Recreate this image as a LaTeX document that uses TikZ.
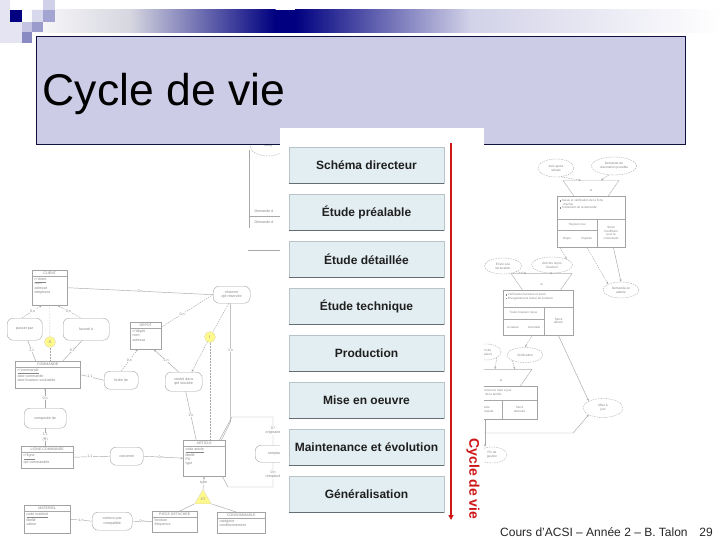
\documentclass[tikz,border=0pt]{standalone}
\usepackage{fontspec}
\setmainfont{Liberation Sans}
\usetikzlibrary{shapes.geometric,arrows.meta,calc}
\definecolor{navy}{RGB}{0,0,128}
\definecolor{barA}{RGB}{214,214,224}
\definecolor{barB}{RGB}{210,210,232}
\definecolor{titlefill}{RGB}{204,204,230}
\definecolor{titleline}{RGB}{16,16,64}
\definecolor{stagefill}{RGB}{227,238,242}
\definecolor{stageedge}{RGB}{184,196,200}
\definecolor{stagebottom}{RGB}{100,110,114}
\definecolor{cyclered}{RGB}{206,22,22}
\definecolor{sqL}{RGB}{228,228,242}
\definecolor{sqA}{RGB}{208,208,232}
\definecolor{sqB}{RGB}{216,216,236}
\definecolor{sqC}{RGB}{164,164,210}
\definecolor{sqD}{RGB}{196,196,226}
\definecolor{sqE}{RGB}{156,156,204}
\definecolor{sqF}{RGB}{138,138,194}
\tikzset{
  fl/.style={draw=black!34, line width=0.45pt},
  fdash/.style={fl, dash pattern=on 1.5pt off 1pt},
  fdot/.style={fl, dash pattern=on 0.5pt off 1pt},
  farr/.style={-{Stealth[length=2.5pt,width=2pt]}},
  farrs/.style={{Stealth[length=2.5pt,width=2pt]}-},
  ft/.style={text=black!48, font=\fontsize{3.6}{4.2}\selectfont, inner sep=0.3pt},
  card/.style={ft, fill=white},
  ent/.style={draw=black!36, fill=white, rectangle, inner sep=0pt, anchor=north west},
  asc/.style={draw=black!36, fill=white, rounded corners=6pt, inner sep=0pt, anchor=north west, align=center, text=black!48, font=\fontsize{3.6}{4.2}\selectfont},
  elli/.style={ellipse, draw=black!32, fill=white, dash pattern=on 1.5pt off 1pt, align=center, inner sep=0pt, text=black!48, font=\fontsize{3.2}{3.8}\selectfont},
  ycirc/.style={circle, fill=yellow!45, draw=yellow!50!black!30, inner sep=0pt, minimum size=11pt, text=black!50, font=\fontsize{4}{4}\selectfont},
  sync/.style={trapezium, draw=black!32, fill=white, shape border rotate=180, trapezium angle=55, inner sep=0pt, text=black!48, font=\fontsize{3}{3}\selectfont},
  stagebox/.style={fill=stagefill, draw=stageedge, line width=0.6pt, minimum width=155pt, minimum height=36pt, inner sep=0pt, font=\bfseries\fontsize{12}{14}\selectfont, text=black!88}
}
\newcommand\mcdent[7]{%
  \node[ent, minimum width=#4pt, minimum height=#5pt] (#1) at (#2,#3) {};
  \draw[fl] ([yshift=-6.5pt]#1.north west) -- ([yshift=-6.5pt]#1.north east);
  \node[ft, anchor=north] (#1-h) at ([yshift=-1.2pt]#1.north) {#6};
  \node[ft, anchor=north west, align=left] (#1-a) at ([xshift=2pt,yshift=-7.5pt]#1.north west) {#7};
}
\begin{document}
\begin{tikzpicture}[x=1pt,y=-1pt]
\useasboundingbox (0,0) rectangle (720,540);
\fill[white] (0,0) rectangle (720,540);

% ---- gradient bar
\shade[left color=white, right color=barA] (18,10) rectangle (130.5,33);
\shade[left color=barA, right color=navy] (130,10) rectangle (275.5,33);
\fill[navy] (275,10) rectangle (295.5,33);
\shade[left color=navy, right color=barB] (295,10) rectangle (470.5,33);
\shade[left color=barB, right color=white] (470,10) rectangle (720,33);

% ---- checkered squares
\fill[sqL] (0,0) rectangle (10,43);
\fill[sqL] (10,22) rectangle (22,43);
\fill[navy] (10,10) rectangle (22,22);
\fill[sqA] (43,0) rectangle (55,10);
\fill[sqB] (32,10) rectangle (43,22);
\fill[sqC] (43,10) rectangle (55,22);
\fill[sqD] (22,22) rectangle (32,32);
\fill[sqE] (32,22) rectangle (43,32);
\fill[sqF] (22,32) rectangle (32,43);

% ---- faded fragment behind title (top middle-left)
\node[elli, minimum width=36pt, minimum height=20pt] (fell) at (268,146) {Rang};
\coordinate (f1) at (249,150); \coordinate (f2) at (249,228);
\draw[fl] (f1) -- (f2);
\coordinate (f3) at (249,216); \coordinate (f4) at (280,216);
\draw[fl] (f3) -- (f4);
\coordinate (f5) at (248,250); \coordinate (f6) at (280,250);
\draw[fl] (f5) -- (f6);
\node[ft, anchor=west] (fdem1) at (254,211) {Demande d};
\node[ft, anchor=west] (fdem2) at (254,222) {Demande d};

% ---- title box
\node[draw=titleline, fill=titlefill, line width=1pt, minimum width=649pt, minimum height=108pt, anchor=north west, inner sep=0pt] (titlebox) at (36,36) {};
\node[anchor=base west, inner sep=0pt, font=\fontsize{44.5}{50}\selectfont] (titletext) at (42.5,106) {Cycle de vie};

% ---- left faded MCD
\mcdent{client}{32}{270}{35}{35}{CLIENT}{\underline{n°client}\\nom\\adresse\\telephone}
\mcdent{depot}{130}{322}{31}{27}{DEPOT}{n°dépôt\\nom\\adresse}
\mcdent{commande}{15}{361}{65}{27}{COMMANDE}{\underline{n°commande}\\date commande\\date livraison souhaitée}
\mcdent{ligne}{21}{446}{52}{22}{LIGNE COMMANDE}{\underline{n°ligne}\\qté commandée}
\mcdent{article}{183}{440}{42}{36}{ARTICLE}{\underline{code article}\\libellé\\PU\\type}
\mcdent{materiel}{24}{505}{46}{28}{MATERIEL}{\underline{code matériel}\\libellé\\valeur}
\mcdent{piece}{152}{511}{45}{21}{PIECE DETACHEE}{fonction\\fréquence}
\mcdent{conso}{217}{512}{48}{21}{CONSOMMABLE}{catégorie\\conditionnement}

\node[asc, minimum width=35pt, minimum height=22pt] (passer) at (7,318) {passer par};
\node[asc, minimum width=46pt, minimum height=22pt] (facture) at (63,318) {facturé à};
\node[asc, minimum width=37pt, minimum height=17pt] (reserver) at (213,286) {réserver\\qté réservée};
\node[asc, minimum width=34pt, minimum height=18pt] (livre) at (104,371) {livrée de};
\node[asc, minimum width=37pt, minimum height=19pt] (stocke) at (165,372) {stocké dans\\qté stockée};
\node[asc, minimum width=42pt, minimum height=20pt] (composee) at (24,408) {composée de};
\node[asc, minimum width=33pt, minimum height=18pt] (concerne) at (110,447) {concerne};
\node[asc, minimum width=42pt, minimum height=17pt] (remplace) at (255,445) {remplacer};
\node[asc, minimum width=40pt, minimum height=18pt] (contenu) at (92,512) {contenu par\\compatible};

\node[ycirc] (xc) at (50,342) {X};
\node[ycirc] (ic) at (210,337) {I};
\node[regular polygon, regular polygon sides=3, fill=yellow!45, draw=yellow!50!black!30, inner sep=0pt, minimum size=19pt, text=black!50, font=\fontsize{3.6}{4}\selectfont] (xt) at (203,499) {XT};

\draw[fl] (client.east) -- (reserver.west) node[card,pos=.5]{0,n};
\draw[fdash, farrs] ([xshift=-8pt]client.south) -- ([xshift=-3pt]passer.north) node[card,pos=.45]{0,n};
\draw[fdash, farrs] ([xshift=8pt]client.south) -- ([xshift=-5pt]facture.north) node[card,pos=.45]{0,n};
\draw[fdot] (client.south) -- (xc);
\draw[fdot] (xc) -- (commande.north -| xc);
\draw[fl] ([xshift=3pt]passer.south) -- ([xshift=-12pt]commande.north) node[card,pos=.5]{1,1};
\draw[fl] ([xshift=-4pt]facture.south) -- ([xshift=15pt]commande.north) node[card,pos=.5]{0,1};
\draw[fl] (commande.east) -- (livre.west) node[card,pos=.4]{1,1};
\draw[fdash, farr] (livre.north) -- ([xshift=-8pt]depot.south) node[card,pos=.5]{0,n};
\draw[fdash] ([yshift=-5pt]depot.north east) -- (reserver.west) node[card,pos=.4]{0,n};
\draw[fl, farr] ([xshift=-5pt]stocke.north) -- ([xshift=8pt]depot.south) node[card,pos=.5]{1,n};
\draw[fdash] ([xshift=-3pt]reserver.south) -- (ic);
\draw[fdash, farr] (ic) -- ([xshift=8pt]stocke.north);
\draw[fdot] (ic) -- (article.north -| ic);
\draw[fl] ([xshift=-1pt]reserver.south) -- ++(0,118) node[card,pos=.4]{1,n} -- ([xshift=-4pt]article.north east);
\draw[fl] ([xshift=2pt]stocke.south) -- ([xshift=-8pt]article.north) node[card,pos=.5]{1,n};
\draw[fl, farr] (composee.north) -- (commande.south -| composee.north) node[card,pos=.5]{0,n};
\draw[fl] (composee.south) -- (ligne.north -| composee.south) node[card,pos=.5,align=center]{1,1\\(R)};
\draw[fl] (ligne.east) -- (concerne.west) node[card,pos=.45]{1,1};
\draw[fl, farr] (concerne.east) -- (article.west) node[card,pos=.45]{0,n};
\coordinate (k1) at (232,417); \coordinate (k2) at (273,417);
\coordinate (k3) at (273,487); \coordinate (k4) at (228,487);
\draw[fl] ([xshift=-6pt]article.north east) -- (k1) -- (k2) -- (k2 |- remplace.north) node[card,pos=.5,align=center]{0,*\\originaire};
\draw[fl] (remplace.south -| k3) -- (k3) node[card,pos=.5,align=center]{0,n\\remplacé} -- (k4) -- ([xshift=-3pt]article.south east);
\draw[fl, farrs] (article.south) -- (xt.north) node[card,pos=.5]{type};
\draw[fl] (xt.corner 2) -- ([xshift=5pt]piece.north);
\draw[fl] (xt.corner 3) -- ([xshift=-5pt]conso.north);
\draw[fl] (materiel.east) -- (contenu.west) node[card,pos=.5]{1,n};
\draw[fl] (contenu.east) -- (piece.west) node[card,pos=.5]{0,n};

% ---- right faded MCT
\node[elli, minimum width=36pt, minimum height=18pt] (avis) at (556,168) {Avis après\\achats};
\node[elli, minimum width=45pt, minimum height=18pt] (demres) at (614,166) {Demande de\\réservation possible};
\node[sync, minimum width=56pt, minimum height=9pt] (sync1) at (591,191) {et};
\draw[fdash, farr] (avis.-60) -- ([xshift=-10pt]sync1.north);
\draw[fdash, farr] (demres.240) -- ([xshift=10pt]sync1.north);
\node[ent, minimum width=68pt, minimum height=51pt] (op1) at (557,196) {};
\draw[fl] ([yshift=-23pt]op1.north west) -- ([yshift=-23pt]op1.north east);
\draw[fl] ([xshift=40pt,yshift=-23pt]op1.north west) -- ([xshift=40pt]op1.south west);
\draw[fl] ([yshift=-34pt]op1.north west) -- ([xshift=40pt,yshift=-34pt]op1.north west);
\node[ft, anchor=north west, align=left, font=\fontsize{3}{3.6}\selectfont] (op1t) at ([xshift=2pt,yshift=-3pt]op1.north west) {\rule{1.6pt}{1.6pt}\ Saisie et vérification de la fiche\\\hspace{3pt} d'achat\\\rule{1.6pt}{1.6pt}\ Traitement de la demande};
\node[ft, font=\fontsize{3}{3.6}\selectfont] (op1c1) at (577,224.5) {Toujours vrai};
\node[ft, font=\fontsize{3}{3.6}\selectfont] (op1c2) at (567,239) {Dispo};
\node[ft, font=\fontsize{3}{3.6}\selectfont] (op1c3) at (587,239) {Rupture};
\node[ft, align=center, font=\fontsize{3}{3.6}\selectfont] (op1c4) at (611,233) {Stock\\insuffisant\\pour la\\commande};
\node[elli, minimum width=36pt, minimum height=16pt] (attente) at (621,290) {Demande en\\attente};
\draw[fdash, farr] ([xshift=30pt]op1.south west) -- (attente.north west);
\draw[fl, farr] ([xshift=-12pt]op1.south east) -- (attente.north);
\node[elli, minimum width=37pt, minimum height=16pt] (envoi) at (503,266) {Envoi à la\\facturation};
\node[elli, minimum width=41pt, minimum height=16pt] (recus) at (552,265) {Articles reçus\\livraison};
\draw[fdash, farr] ([xshift=3pt]op1.south west) -- (recus.north east);
\node[sync, minimum width=61pt, minimum height=10pt] (sync2) at (541.5,285) {et};
\draw[fdash, farr] (envoi.south east) -- ([xshift=-15pt]sync2.north);
\draw[fdash, farr] (recus.south) -- ([xshift=8pt]sync2.north);
\node[ent, minimum width=70pt, minimum height=45pt] (op2) at (503,290) {};
\draw[fl] ([yshift=-17pt]op2.north west) -- ([yshift=-17pt]op2.north east);
\draw[fl] ([xshift=41pt,yshift=-17pt]op2.north west) -- ([xshift=41pt]op2.south west);
\draw[fl] ([yshift=-29pt]op2.north west) -- ([xshift=41pt,yshift=-29pt]op2.north west);
\node[ft, anchor=north west, align=left, font=\fontsize{3}{3.6}\selectfont] (op2t) at ([xshift=2pt,yshift=-3pt]op2.north west) {\rule{1.6pt}{1.6pt}\ Vérification livraison et stock\\\rule{1.6pt}{1.6pt}\ Enregistrement retour de livraison};
\node[ft, font=\fontsize{3}{3.6}\selectfont] (op2c1) at (523.5,313) {Toute livraison reçue};
\node[ft, font=\fontsize{3}{3.6}\selectfont] (op2c2) at (513,327) {Livraison};
\node[ft, font=\fontsize{3}{3.6}\selectfont] (op2c3) at (534,327) {Anomalie};
\node[ft, align=center, font=\fontsize{3}{3.6}\selectfont] (op2c4) at (558.5,321) {Stock\\affecté};
\node[elli, minimum width=36pt, minimum height=15pt] (verif) at (525,355) {Vérification};
\node[elli, minimum width=30pt, minimum height=16pt] (bonliv) at (486,352) {Bon de\\livraison};
\node[elli, minimum width=40pt, minimum height=19pt] (maj) at (603,408) {Mise à\\jour};
\draw[fdash, farr] ([xshift=29pt]op2.south west) -- (verif.north);
\draw[fl, farr] ([xshift=-15pt]op2.south east) -- (maj.north west);
\node[sync, minimum width=62pt, minimum height=10pt] (sync3) at (501,381) {et};
\draw[fdash, farr] (bonliv.south east) -- ([xshift=-6pt]sync3.north);
\draw[fdash, farr] (verif.south west) -- ([xshift=14pt]sync3.north);
\node[ent, minimum width=67pt, minimum height=33pt] (op3) at (470,386) {};
\draw[fl] ([yshift=-14pt]op3.north west) -- ([yshift=-14pt]op3.north east);
\draw[fl] ([xshift=32pt,yshift=-14pt]op3.north west) -- ([xshift=32pt]op3.south west);
\node[ft, anchor=north west, align=left, font=\fontsize{3}{3.6}\selectfont] (op3t) at ([xshift=2pt,yshift=-3pt]op3.north west) {Enregistrement et mise à jour\\du fichier de la famille};
\node[ft, align=center, font=\fontsize{3}{3.6}\selectfont] (op3c1) at (486,409.5) {Toute\\commande};
\node[ft, align=center, font=\fontsize{3}{3.6}\selectfont] (op3c2) at (519.5,409.5) {Stock\\alimenté};
\node[elli, minimum width=30pt, minimum height=16pt] (fin) at (492,455) {Fin de\\gestion};
\draw[fl, farr] ([xshift=15pt]op3.south west) -- ([xshift=-7pt]fin.north);
\coordinate (m1) at (482,433); \coordinate (m2) at (573,433);
\draw[fl, farr] (m1) -- (m2) -- (maj.south west);

% ---- central panel
\node[fill=white, minimum width=204pt, minimum height=398pt, anchor=north west, inner sep=0pt] (panel) at (280,128) {};
\foreach \lab [count=\i] in {Schéma directeur, Étude préalable, Étude détaillée, Étude technique, Production, Mise en oeuvre, Maintenance et évolution, Généralisation} {
  \node[stagebox] (s\i) at (366.5,{165.5+47*(\i-1)}) {\lab};
  \draw[stagebottom, line width=0.9pt] (s\i.south west) -- (s\i.south east);
}
\coordinate (rtop) at (451,143);
\coordinate (rbot) at (451,520);
\draw[cyclered, line width=1.8pt, -{Triangle[length=5pt,width=5pt]}] (rtop) -- (rbot);
\node[rotate=-90, text=cyclered, font=\bfseries\fontsize{14}{16}\selectfont, inner sep=0pt] (cyclelabel) at (473,479) {Cycle de vie};

% ---- footer
\node[anchor=base west, inner sep=0pt, font=\fontsize{12}{14}\selectfont, text=black!85] (footer) at (500,536) {Cours d'ACSI – Année 2 – B. Talon};
\node[anchor=base east, inner sep=0pt, font=\fontsize{12}{14}\selectfont, text=black!85] (pagenum) at (713,536) {29};
\end{tikzpicture}
\end{document}
